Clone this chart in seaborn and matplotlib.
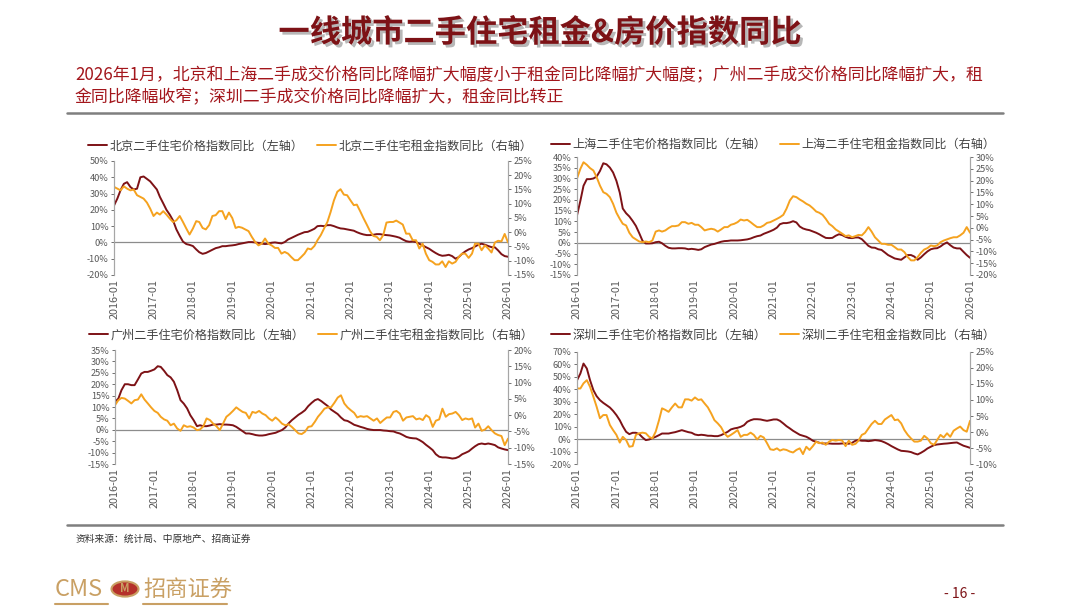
import numpy as np
import pandas as pd
import matplotlib
matplotlib.use("Agg")
import matplotlib.pyplot as plt
import matplotlib.patheffects as pe
from matplotlib.patches import Circle
from matplotlib.ticker import FuncFormatter, MultipleLocator
import seaborn as sns

# 月度数据 2016-01 ~ 2026-01（%）
months = pd.date_range("2016-01-01", "2026-01-01", freq="MS")

bj_price = [22.7, 27, 32, 36, 37, 34, 32.5, 33, 40, 40.5, 39, 37.5,
            35, 32.5, 28, 24, 20, 17, 13.5, 8, 4, 0.5, -1, -1.5,
            -2.2, -4.3, -6, -7, -6.5, -5.5, -4.5, -3.5, -3, -2.3, -2.3, -2,
            -1.8, -1.5, -1, -0.6, -0.2, 0.2, 0.2, 0, -0.3, -0.7, -1, -0.8,
            -0.2, 0, -0.3, -0.6, 0.2, 1.8, 2.7, 3.7, 4.7, 5.5, 6.3, 6.5,
            7.4, 8.4, 10, 10.2, 10, 10.6, 10.6, 10, 9.2, 8.6, 8.4, 8,
            7.6, 7.2, 6.3, 5.5, 4.9, 4.5, 4.5, 4.7, 5.1, 5.1, 4.7, 4.5,
            4.3, 3.9, 3.5, 2.9, 1.8, 0.8, 0.4, 0.6, 0.2, -0.8, -1.8, -2.9,
            -3.9, -5.3, -6.5, -7.6, -8.2, -8, -7.6, -8.4, -10, -9, -7, -5.5,
            -4.3, -3.5, -2.5, -1.4, -0.8, -1.4, -2.2, -2.9, -3, -4.9, -7.2, -8.4,
            -8.8]
bj_rent = [15.9, 15.3, 14.7, 16.1, 15.3, 14.7, 15, 13, 12.4, 11.8, 10.4, 8.3,
           5.7, 6.9, 6.2, 7.4, 6.2, 4.8, 3.6, 4.2, 5.7, 3.6, 1.3, -0.8,
           1.3, 3.9, 3.6, 1.5, 1, 2.5, 5.7, 6, 7.4, 7.4, 4.6, 6.9,
           5, 1.5, 1.9, 1.6, 1, 0.4, -1.6, -3.4, -4.6, -4, -2.2, -4,
           -4.6, -5.5, -5.5, -7.5, -6.9, -7.5, -8.7, -9.8, -9.8, -8.7, -7.5, -5.7,
           -6, -4.8, -2.8, -1, 1.3, 3.6, 7.1, 11.2, 14.2, 15.1, 13.2, 13,
           11.2, 9.5, 9.7, 7.4, 5, 2.7, 0.4, -1.3, -1.6, -2.8, -1, 3.4,
           3.6, 3.6, 4.1, 3.4, 2.7, -0.5, -0.5, -2.8, -2.8, -5.7, -4, -7.5,
           -9.8, -10.4, -11.3, -11.3, -10.2, -12.2, -10.2, -11, -10.4, -8.7, -7.5, -7.5,
           -9, -7.5, -4, -4, -6.3, -4.6, -5.7, -7.1, -3.6, -3.0, -3.2, -0.6,
           -3.6]
sh_price = [12.9, 19.6, 26.6, 29.7, 29.7, 30, 30.9, 33.5, 37.1, 36.6, 35.1, 32.8,
            28.9, 23.4, 16, 13.8, 12.3, 10.2, 7.9, 4.5, 0.9, -0.3, -0.3, -0.2,
            0.3, 0.5, -0.2, -1.4, -2.3, -2.6, -2.6, -2.5, -2.5, -2.6, -3, -2.8,
            -3, -3.3, -3, -2, -1.4, -0.8, -0.5, 0, 0.5, 0.8, 0.9, 1.1,
            1.1, 1.1, 1.2, 1.4, 1.6, 2, 2.6, 3.1, 3.4, 4.2, 4.8, 5.4,
            6.1, 7.1, 8.7, 9.2, 9.2, 9.5, 10.1, 9.5, 7.6, 6.7, 6.2, 5.9,
            5.3, 4.7, 4, 3.1, 2.3, 2.2, 2.3, 3.3, 4, 3.6, 2.8, 2.3,
            2.2, 2.5, 2.5, 1.7, 0.2, -1.4, -2.2, -2.3, -3, -3.3, -4.5, -5.7,
            -6.5, -7.3, -7.6, -7.9, -6.8, -5.7, -5.7, -6.4, -7.9, -6.8, -5.3, -4,
            -3, -2.6, -2.5, -1.7, -0.6, 0.2, -1.1, -2.2, -2.6, -2.6, -4.2, -5.7,
            -7]
sh_rent = [21, 25, 27.8, 26.7, 25.3, 24.3, 21.5, 17.9, 15.1, 14.4, 13, 10.2,
           6.4, 3.8, 1.7, 1, -2.1, -4, -4.9, -5.8, -6.1, -5.8, -6.1, -5.4,
           -1.6, -1.1, -1.6, -1.1, -0.1, 0.7, 0.7, 1, 2.4, 2.4, 1.7, 2.1,
           1.3, 1.3, 0.3, -1.1, -0.7, -0.4, -0.7, -1.6, -0.7, 0.3, 0.3, 1.3,
           1.7, 2.4, 3.5, 3.1, 3.4, 2.4, 1.3, 0.3, 0.3, 1, 2.1, 2.4,
           3.1, 3.8, 4.5, 5.5, 8.1, 11.6, 13.4, 13, 12, 11.2, 10.2, 9.5,
           8.3, 6.9, 6.4, 5.5, 3.8, 1.7, 0.7, -0.7, -1.6, -2.5, -3.5, -3.2,
           -4, -3.5, -3, -3.2, -1.8, 0.3, -1.6, -4, -5.4, -6.8, -6.8, -7.2,
           -7.2, -8.2, -9.2, -9.2, -10.3, -12.4, -13.8, -13.8, -12.4, -10.6, -9.2, -8.6,
           -7.5, -7.8, -7.5, -6.1, -5.4, -4.9, -4.4, -4, -4, -3.2, -2.1, 0.3,
           -2.1]
gz_price = [12.3, 13.7, 17.4, 20, 20, 19.6, 19.6, 22.1, 24.7, 25.4, 25.4, 25.9,
            26.5, 27.9, 27.6, 25.9, 24, 23, 21.1, 17.4, 13, 11.5, 9.4, 6.4,
            4.2, 1.6, 2, 1.6, 1.6, 1.9, 2.3, 2.3, 2.5, 2.3, 2.3, 2.2,
            2, 1.3, 0.4, -0.6, -1.6, -1.6, -1.9, -2.3, -2.5, -2.5, -2.3, -1.9,
            -1.6, -1.3, -0.7, -0.1, 1, 2.8, 4.2, 5.4, 6.6, 7.5, 8.6, 10.4,
            11.8, 13, 13.5, 12.6, 11.5, 10.4, 8.9, 7.9, 6.9, 5.4, 4.2, 3.9,
            3.1, 2.2, 1.8, 1.3, 0.9, 0.4, 0.1, -0.1, -0.1, -0.1, -0.3, -0.4,
            -0.6, -0.7, -1.2, -1.6, -2.3, -3.1, -3.5, -3.7, -3.8, -4.5, -5.4, -6.6,
            -7.7, -8.9, -10.7, -11.8, -12.1, -12.1, -12.3, -12.6, -12.4, -11.8, -10.7, -10.1,
            -9.4, -8.2, -7.2, -6.3, -6, -6.3, -6, -6.3, -6.7, -7.7, -8.2, -8.6,
            -8.9]
gz_rent = [3.1, 4.6, 5.3, 5.1, 4.4, 3.6, 4.6, 4.8, 6.4, 4.8, 3.6, 2.4,
           1.3, 0.7, -0.5, -1.3, -1.7, -3.1, -2.6, -4.1, -4.8, -3.1, -3.6, -3.4,
           -3.8, -4.6, -4.4, -3.4, -1, -1.5, -2.6, -3.4, -4.6, -2.6, -0.5, 0.3,
           1.3, 2.4, 1.7, 1, 0.7, -1, 1, 0.7, 1.3, 0.5, 0, -1,
           -1.7, -0.7, -1.5, -2.6, -3.1, -2.8, -3.6, -4.6, -5.6, -5.8, -5.1, -3.6,
           -3.4, -2, -0.5, 0.7, 2, 2.4, 2.4, 3.8, 5.4, 6.1, 3.6, 2.4,
           1.5, 0.7, -0.7, -0.3, -0.5, -0.3, -1, -1.7, -1, -2.4, -1.5, -0.7,
           -0.7, 1, 1.3, 0.5, -1.7, -0.7, -0.5, -0.3, -1.3, -1, -1.5, 0,
           -0.7, -3.6, -1.7, -1.3, 2, -0.5, 0.3, 0.5, 1, 0, -1.5, -1,
           -1.3, -1, -3.8, -2.6, -4.8, -4.4, -3.4, -4.6, -5.6, -6.1, -6.4, -9.2,
           -7.2]
sz_price = [47.3, 52.7, 60.7, 56.7, 47.3, 39.3, 34.5, 31.3, 29.1, 27.3, 25.4, 22.7,
            19.3, 15.2, 10.4, 5.9, 4, 5.1, 5.1, 4, 1.3, -0.8, -0.3, 0.8,
            1.9, 3.2, 4.5, 4.5, 4.5, 5.1, 5.6, 6.4, 7.2, 6.4, 5.6, 5.1,
            3.7, 3.2, 3.5, 3.2, 2.7, 2.7, 2.4, 2.4, 3.2, 4.5, 5.9, 7.8,
            8.6, 9.1, 9.9, 11.2, 13.9, 15.2, 16, 16, 15.8, 15.2, 14.7, 15.2,
            15.8, 15.8, 14.7, 12.6, 10.4, 8.6, 6.7, 5.1, 3.5, 2.7, 1.9, 0.5,
            -1.3, -2.1, -2.9, -3.5, -3.5, -3.5, -3.7, -3.7, -3.7, -3.5, -3.5, -3.7,
            -2.9, -1.3, -0.8, -1.3, -1.3, -1.6, -1.3, -0.8, -1.1, -1.6, -2.7, -4,
            -5.6, -7, -8.3, -9.4, -9.6, -9.9, -10.4, -11.5, -12.3, -11, -9.4, -7.5,
            -6.1, -4.8, -4.3, -4, -3.7, -3.5, -3.2, -2.9, -2.7, -4, -5.3, -6.1,
            -7]
sz_rent = [13.6, 13.6, 15.2, 16.2, 14.1, 11, 7.9, 4.3, 5.3, 5.3, 2.2, 0.6,
           -0.9, -3.3, -1.5, -2.5, -4.6, -4.4, -0.9, -0.4, -0.2, -0.4, -1.5, -2,
           0.1, 3.7, 7.4, 6.9, 6.3, 7.7, 8.9, 7.7, 7.7, 10.2, 10.2, 9.8,
           10.8, 10, 10.2, 8.9, 7.7, 5.8, 3.7, 2.7, 1.5, -0.4, -1.5, -0.9,
           -0.2, 0.6, -1.5, -0.9, -0.9, -0.2, -0.9, -2.3, -1.2, -1.7, -3.5, -5.4,
           -5.6, -5.1, -5.8, -5.4, -5.6, -6.1, -6.4, -5.6, -5.1, -6.9, -4.6, -5.6,
           -4.4, -3, -3.5, -3.3, -4, -3, -2.5, -2.7, -2.5, -2.7, -4.4, -2.7,
           -4, -3.7, -2.7, -0.9, -0.4, 1.1, 2.5, 3.5, 2.5, 2.5, 3.9, 4.6,
           5.3, 3.7, 3.9, 2.7, 0.6, -0.9, -2, -3, -3, -2.7, -1.2, -2,
           -3.5, -4, -2.5, -0.9, -1.7, -0.4, -1.5, 0.4, 1.1, 1.7, 0.6, 0.1,
           3.5]

cities = ["北京", "上海", "广州", "深圳"]
price_series = [bj_price, sh_price, gz_price, sz_price]
rent_series = [bj_rent, sh_rent, gz_rent, sz_rent]
left_lims = [(-20, 50, 10), (-15, 40, 5), (-15, 35, 5), (-20, 70, 10)]
right_lims = [(-15, 25, 5), (-20, 30, 5), (-15, 20, 5), (-10, 25, 5)]

sns.set_theme(style="white")
plt.rcParams['font.family'] = ['Noto Sans CJK SC', 'DejaVu Sans']
plt.rcParams['axes.unicode_minus'] = False

RED = "#7d1216"
ORANGE = "#f5a21f"
TXT = "#595959"

fig = plt.figure(figsize=(10.8, 6.08), dpi=100)

# 面板位置 [left, bottom, width, height]
boxes = [[0.1056, 0.5477, 0.3648, 0.1875],
         [0.5343, 0.5477, 0.3639, 0.1940],
         [0.1065, 0.2368, 0.3639, 0.1875],
         [0.5343, 0.2368, 0.3639, 0.1843]]
leg_pos = [(0.287, 0.760), (0.716, 0.762), (0.288, 0.449), (0.716, 0.449)]

pct = FuncFormatter(lambda v, p: f"{v:.0f}%")

for i in range(4):
    ax = fig.add_axes(boxes[i])
    ax2 = ax.twinx()
    df = pd.DataFrame({"月份": months, "价格": price_series[i], "租金": rent_series[i]})
    sns.lineplot(data=df, x="月份", y="价格", ax=ax, color=RED, linewidth=1.4,
                 label=f"{cities[i]}二手住宅价格指数同比（左轴）", legend=False)
    sns.lineplot(data=df, x="月份", y="租金", ax=ax2, color=ORANGE, linewidth=1.4,
                 label=f"{cities[i]}二手住宅租金指数同比（右轴）", legend=False)
    lo, hi, st = left_lims[i]
    ax.set_ylim(lo, hi)
    ax.yaxis.set_major_locator(MultipleLocator(st))
    lo2, hi2, st2 = right_lims[i]
    ax2.set_ylim(lo2, hi2)
    ax2.yaxis.set_major_locator(MultipleLocator(st2))
    ax.yaxis.set_major_formatter(pct)
    ax2.yaxis.set_major_formatter(pct)
    ax.set_xlim(months[0], months[-1])
    ticks = pd.date_range("2016-01-01", "2026-01-01", freq="YS")
    ax.set_xticks(ticks)
    ax.set_xticklabels([t.strftime("%Y-%m") for t in ticks], rotation=90)
    ax.axhline(0, color="#8c8c8c", linewidth=0.9, zorder=0)
    ax.set_xlabel("")
    ax.set_ylabel("")
    ax2.set_ylabel("")
    for a in (ax, ax2):
        for s in ("top", "bottom"):
            a.spines[s].set_visible(False)
        a.spines["left"].set_color("#a6a6a6")
        a.spines["right"].set_color("#a6a6a6")
        a.spines["left"].set_linewidth(0.8)
        a.spines["right"].set_linewidth(0.8)
    ax.tick_params(axis="y", labelsize=6.6, colors=TXT, length=2.5, width=0.6,
                   direction="out", pad=1.5, left=True)
    ax2.tick_params(axis="y", labelsize=6.6, colors=TXT, length=2.5, width=0.6,
                    direction="out", pad=1.5, right=True)
    ax.tick_params(axis="x", labelsize=7.8, colors=TXT, length=0, pad=3)
    ax.grid(False)
    ax2.grid(False)
    h1, l1 = ax.get_legend_handles_labels()
    h2, l2 = ax2.get_legend_handles_labels()
    fig.legend(h1 + h2, l1 + l2, loc="center", bbox_to_anchor=leg_pos[i], ncol=2,
               frameon=False, fontsize=8.7, handlelength=1.6, handletextpad=0.2,
               columnspacing=1.1, labelcolor="#404040")

# 标题与说明
fig.text(0.5, 1 - 33 / 608, "一线城市二手住宅租金&房价指数同比", ha="center", va="center",
         fontsize=22.5, fontweight="bold", color=RED,
         path_effects=[pe.withSimplePatchShadow(offset=(2, -2), shadow_rgbFace="#888888", alpha=0.6)])
fig.text(75 / 1080, 1 - 75 / 608,
         "2026年1月，北京和上海二手成交价格同比降幅扩大幅度小于租金同比降幅扩大幅度；广州二手成交价格同比降幅扩大，租",
         ha="left", va="center", fontsize=12.2, color="#a3161c")
fig.text(75 / 1080, 1 - 97 / 608, "金同比降幅收窄；深圳二手成交价格同比降幅扩大，租金同比转正",
         ha="left", va="center", fontsize=12.2, color="#a3161c")

fig.add_artist(plt.Line2D([67 / 1080, 1003 / 1080], [1 - 113 / 608, 1 - 113 / 608],
                          color="#7f7f7f", linewidth=1.8))
fig.add_artist(plt.Line2D([67 / 1080, 1003 / 1080], [1 - 525 / 608, 1 - 525 / 608],
                          color="#7f7f7f", linewidth=1.8))
fig.text(76 / 1080, 1 - 539 / 608, "资料来源：统计局、中原地产、招商证券", ha="left", va="center",
         fontsize=7, color="#333333")

# 页脚标志
GOLD = "#c9a064"
fig.text(55 / 1080, 1 - 590 / 608, "CMS", ha="left", va="center", fontsize=17,
         color=GOLD)
fig.add_artist(Circle((125 / 1080, 1 - 589 / 608), 0.0125, transform=fig.transFigure,
                      facecolor="#b5312b", edgecolor=GOLD, linewidth=1.5))
fig.text(125 / 1080, 1 - 589 / 608, "M", ha="center", va="center", fontsize=8,
         color=GOLD, fontweight="bold")
fig.text(143 / 1080, 1 - 590 / 608, "招商证券", ha="left", va="center", fontsize=16,
         color=GOLD)
fig.add_artist(plt.Line2D([55 / 1080, 108 / 1080], [1 - 604 / 608, 1 - 604 / 608],
                          color=GOLD, linewidth=1.5))
fig.add_artist(plt.Line2D([143 / 1080, 227 / 1080], [1 - 604 / 608, 1 - 604 / 608],
                          color=GOLD, linewidth=1.5))
fig.text(960 / 1080, 1 - 594 / 608, "- 16 -", ha="center", va="center", fontsize=10,
         color=RED)

fig.savefig("out.png", dpi=100)
